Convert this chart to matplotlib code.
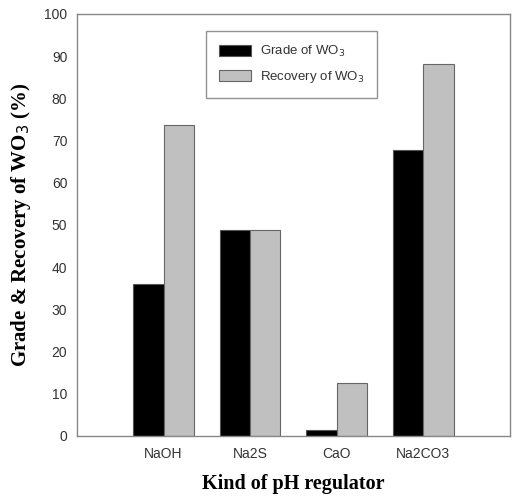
import matplotlib
matplotlib.use("Agg")
import matplotlib.pyplot as plt
import numpy as np

regulators = ["NaOH", "Na2S", "CaO", "Na2CO3"]
grade = [35.9, 48.8, 1.3, 67.7]
recovery = [73.6, 48.8, 12.6, 88.1]

fig = plt.figure(figsize=(5.15, 4.96), dpi=100)
ax = fig.add_axes([0.1495, 0.121, 0.8405, 0.851])

x = np.arange(1, len(regulators) + 1)
w = 0.35
ax.bar(x - w / 2, grade, w, color="black", edgecolor="#555555", linewidth=0.8,
       label="Grade of WO$_3$")
ax.bar(x + w / 2, recovery, w, color="#c0c0c0", edgecolor="#666666", linewidth=0.8,
       label="Recovery of WO$_3$")

ax.set_xlim(0, 5)
ax.set_ylim(0, 100)
ax.set_yticks(range(0, 101, 10))
ax.set_xticks(x)
ax.set_xticklabels(regulators)
ax.tick_params(length=0, labelsize=10, labelcolor="#333333")
ax.tick_params(axis="x", pad=8)
ax.tick_params(axis="y", pad=7)
for lab in ax.get_xticklabels() + ax.get_yticklabels():
    lab.set_family("Liberation Sans")
for s in ax.spines.values():
    s.set_color("#888888")
    s.set_linewidth(1.0)

ax.set_ylabel("Grade & Recovery of WO$_3$ (%)", family="Liberation Serif",
              fontweight="bold", fontsize=15, labelpad=8)
ax.set_xlabel("Kind of pH regulator", family="Liberation Serif",
              fontweight="bold", fontsize=14.5, labelpad=9)

leg = ax.legend(loc="upper left", bbox_to_anchor=(0.282, 0.975), fancybox=False,
                prop={"family": "Liberation Sans", "size": 9.5},
                handlelength=2.4, handleheight=0.9, borderpad=1.0,
                labelspacing=0.75, handletextpad=0.7, edgecolor="#777777")
leg.get_frame().set_linewidth(1.0)
for t in leg.get_texts():
    t.set_color("#333333")

fig.savefig("out.png", dpi=100)
